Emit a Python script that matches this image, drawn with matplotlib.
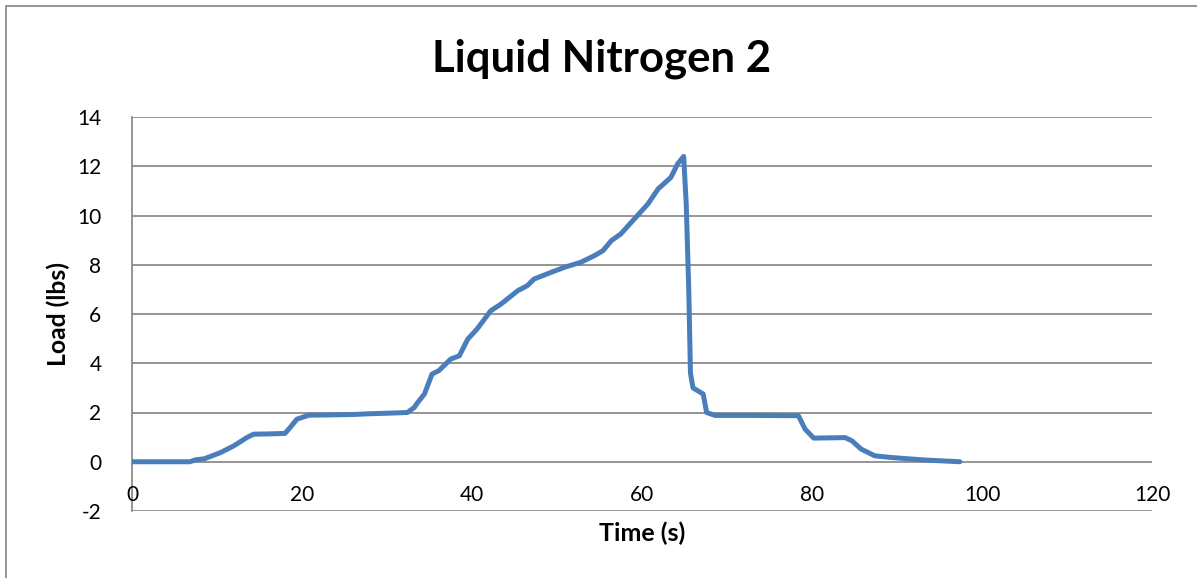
import matplotlib
matplotlib.use("Agg")
import matplotlib.pyplot as plt
from matplotlib.patches import Rectangle

title = "Liquid Nitrogen 2"
x_label = "Time (s)"
y_label = "Load (lbs)"

time_s = [0, 6.8, 7.5, 8.5, 10.4, 12, 13.5, 14.3, 16, 18.0, 18.6, 19.4, 20.8, 23, 26.1, 28, 30,
          32.4, 33.2, 33.6, 34.4, 35.3, 36.1, 37.5, 38.5, 39.5, 40.6, 42.2, 43.4, 45.4, 46.5,
          47.3, 49.3, 50.9, 52.8, 54.4, 55.4, 56.4, 57.5, 59.1, 60.7, 61.9, 63.4, 64.2, 64.9,
          65.2, 65.5, 65.7, 66.0, 67.2, 67.6, 68.6, 73, 78.4, 79.2, 80.2, 83.9, 84.7, 85.8,
          87.4, 89.4, 93.3, 97.4]
load_lbs = [0, 0, 0.08, 0.12, 0.37, 0.65, 0.98, 1.12, 1.13, 1.15, 1.39, 1.73, 1.89, 1.9, 1.92, 1.95, 1.97,
            2.0, 2.2, 2.4, 2.75, 3.56, 3.7, 4.17, 4.3, 4.98, 5.39, 6.13, 6.4, 6.95, 7.15,
            7.42, 7.69, 7.9, 8.1, 8.37, 8.57, 8.98, 9.25, 9.86, 10.47, 11.08, 11.55, 12.1, 12.4,
            10.5, 7.0, 3.6, 3.0, 2.75, 2.0, 1.88, 1.88, 1.87, 1.32, 0.96, 0.98, 0.85, 0.51,
            0.24, 0.17, 0.07, 0.0]

x_ticks = [0, 20, 40, 60, 80, 100, 120]
y_ticks = [-2, 0, 2, 4, 6, 8, 10, 12, 14]

plt.rcParams['font.family'] = ['Lato', 'DejaVu Sans']

fig = plt.figure(figsize=(11.97, 5.78), dpi=100)
# chart border
fig.patches.append(Rectangle((6/1197, -0.01), 1.2, 1 - 5.5/578 + 0.01, transform=fig.transFigure,
                             fill=False, edgecolor='#8c8c8c', linewidth=1.3))

ax = fig.add_axes([132/1197, 1 - 511/578, (1152 - 132)/1197, (511 - 117)/578])
ax.set_xlim(0, 120)
ax.set_ylim(-2, 14)

for yv in y_ticks:
    ax.axhline(yv, color='#8c8c8c', linewidth=1.3, zorder=1)

ax.plot(time_s, load_lbs, color='#4a7ebb', linewidth=3.6, solid_capstyle='round',
        solid_joinstyle='round', zorder=3)

for s in ['top', 'right', 'bottom']:
    ax.spines[s].set_visible(False)
ax.spines['left'].set_color('#8c8c8c')
ax.spines['left'].set_linewidth(1.3)

ax.set_yticks(y_ticks)
ax.set_yticklabels([str(v) for v in y_ticks])
ax.set_xticks([])
ax.tick_params(axis='y', length=0, labelsize=15, pad=22)
for xv in x_ticks:
    ax.text(xv, -1.35, str(xv), ha='center', va='center', fontsize=15)

fig.text(602/1197, 1 - 59/578, title, ha='center', va='center', fontsize=31.5, fontweight='bold')
ax.text(60, -2.9, x_label, ha='center', va='center', fontsize=18, fontweight='bold')
ax.text(-8.7, 6, y_label, ha='center', va='center', rotation=90, fontsize=17.7, fontweight='bold')

fig.savefig("out.png", dpi=100)
